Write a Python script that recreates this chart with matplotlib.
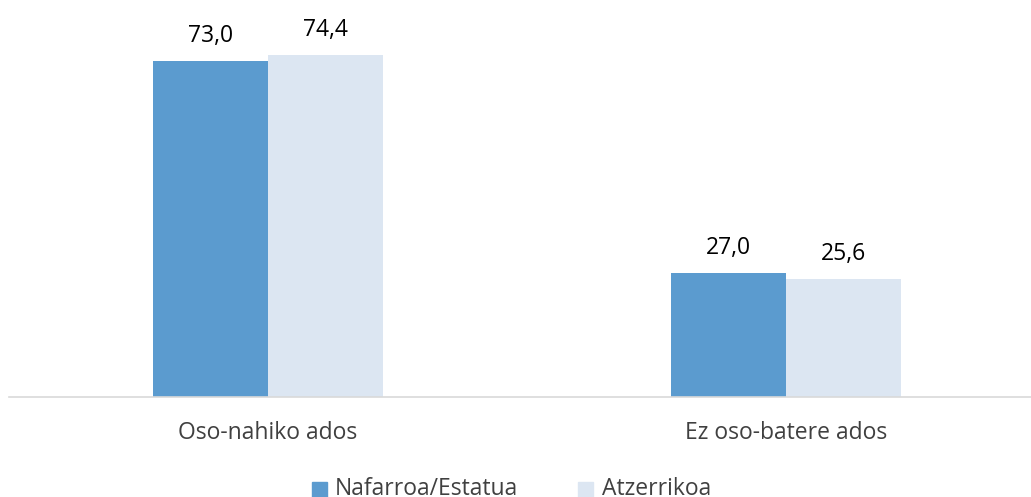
import matplotlib
matplotlib.use("Agg")
import matplotlib.pyplot as plt
from matplotlib.patches import Rectangle

categories = ["Oso-nahiko ados", "Ez oso-batere ados"]
series_names = ["Nafarroa/Estatua", "Atzerrikoa"]
nafarroa = [73.0, 27.0]
atzerrikoa = [74.4, 25.6]
colors = ["#5B9BCF", "#DCE6F2"]

plt.rcParams['font.family'] = ['Open Sans', 'DejaVu Sans']

W, H = 1031, 497
fig = plt.figure(figsize=(W/100, H/100), dpi=100)
ax = fig.add_axes([9/W, 1 - 397/H, (W-9)/W, 397/H])

w = 0.222
x = list(range(len(categories)))
for i, (vals, c) in enumerate(zip([nafarroa, atzerrikoa], colors)):
    xs = [xi + (i - 0.5) * w for xi in x]
    ax.bar(xs, vals, width=w, color=c, align='center', zorder=2)
    for xi, v in zip(xs, vals):
        ax.annotate(f"{v:.1f}".replace('.', ','), (xi, v), xytext=(0, 13.5),
                    textcoords='offset points', ha='center', va='baseline',
                    fontsize=16.5, color='#000000')

ax.set_xlim(-0.5, 1.473)
ax.set_ylim(0, 86.3)
ax.set_yticks([])
ax.set_xticks(x)
ax.set_xticklabels(categories, fontsize=16.5, color='#404040')
ax.tick_params(axis='x', length=0, pad=17)
for s in ['top', 'right', 'left']:
    ax.spines[s].set_visible(False)
ax.spines['bottom'].set_color('#D9D9D9')
ax.spines['bottom'].set_linewidth(1.2)

# legend (drawn manually in figure coordinates)
sq = 15
for (sx, tx), name, c in zip([(312, 335), (578, 602)], series_names, colors):
    fig.patches.append(Rectangle((sx/W, 1 - (482+sq)/H), sq/W, sq/H,
                                 transform=fig.transFigure, color=c))
    fig.text(tx/W, 1 - 495/H, name, fontsize=16.5, color='#404040',
             ha='left', va='baseline')

fig.savefig("out.png", dpi=100)
